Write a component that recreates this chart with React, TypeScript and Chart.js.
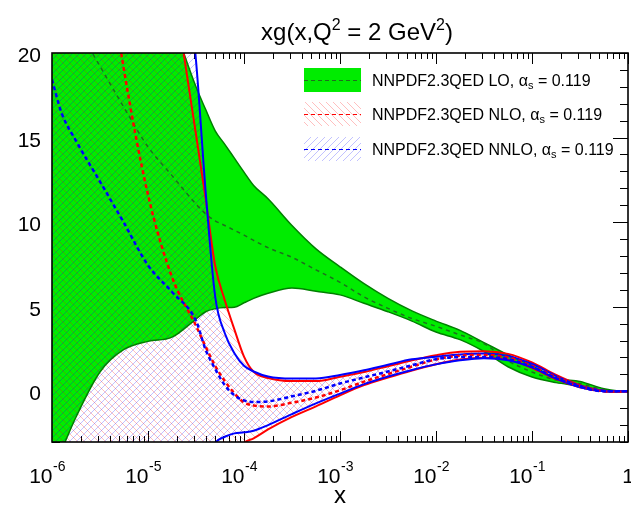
import React, { useEffect, useRef } from 'react';
import { Chart, registerables } from 'chart.js';

Chart.register(...registerables);

// x grid (momentum fraction)
const xValues = [
  1e-6, 1.26e-6, 1.78e-6, 3.16e-6, 5.62e-6, 1e-5, 1.78e-5, 3.16e-5, 3.98e-5, 5.01e-5, 6.31e-5,
  7.94e-5, 1e-4, 1.26e-4, 1.78e-4, 3.16e-4, 5.62e-4, 1e-3, 1.78e-3, 3.16e-3, 5.62e-3,
  1e-2, 1.78e-2, 3.16e-2, 5.62e-2, 0.1, 0.178, 0.316, 0.562, 0.794, 1,
];

// LO band
const loUpper = [40, 38.5, 36, 32, 29, 26, 22.0, 18.0, 16.67, 15.4, 14.6, 13.78, 12.96, 12.17, 11.38, 9.8, 8.42, 7.36, 6.36, 5.49, 4.75, 4.15, 3.6, 2.88, 2.15, 1.52, 0.78, 0.58, 0.15, 0.02, 0];
const loLower = [-4.8, -3.47, -1.52, 1.14, 2.47, 2.95, 3.2, 4.27, 4.7, 4.88, 4.95, 4.97, 5.23, 5.49, 5.79, 6.1, 5.91, 5.7, 5.2, 4.7, 4.15, 3.5, 3.05, 2.35, 1.45, 0.84, 0.51, 0.3, 0.0, -0.05, 0];
const loCentral = [24.0, 23.0, 21.66, 19.22, 16.78, 14.45, 12.75, 11.07, 10.49, 10.08, 9.8, 9.52, 9.23, 8.92, 8.49, 7.92, 7.18, 6.44, 5.58, 4.9, 4.3, 3.84, 3.33, 2.82, 1.8, 1.14, 0.66, 0.45, 0.08, 0, 0];

// NLO band
const nloUpper = [70, 67, 62, 54, 45, 34, 24.5, 15.19, 11.4, 7.42, 5.38, 3.66, 2.05, 1.15, 0.78, 0.6, 0.6, 0.86, 1.14, 1.48, 1.83, 2.13, 2.33, 2.36, 2.21, 1.7, 0.96, 0.36, 0.03, 0, 0];
const nloLower = [-18, -17.2, -16, -14, -12, -11, -9, -7, -6, -5.3, -4.5, -3.8, -3.05, -2.78, -2.26, -1.52, -0.89, -0.24, 0.36, 0.81, 1.23, 1.6, 1.88, 1.98, 1.87, 1.37, 0.72, 0.24, 0.0, -0.02, 0];
const nloCentral = [47, 43.5, 38, 28.5, 19.0, 11.62, 6.75, 3.88, 2.64, 1.5, 0.6, -0.12, -0.66, -0.84, -0.9, -0.68, -0.37, 0.06, 0.57, 1.02, 1.46, 1.88, 2.1, 2.15, 2.0, 1.5, 0.84, 0.3, 0.0, -0.03, 0];

// NNLO band
const nnloUpper = [90, 86, 80, 70, 58, 45, 32, 19.58, 11.84, 5.6, 3.43, 2.25, 1.51, 1.17, 0.87, 0.75, 0.76, 0.96, 1.24, 1.57, 1.89, 2.04, 2.18, 2.24, 2.09, 1.61, 0.9, 0.33, 0.03, 0, 0];
const nnloLower = [-14, -13.6, -13, -12, -11, -10, -8, -5.5, -4.2, -3.05, -2.69, -2.49, -2.43, -2.33, -2.0, -1.35, -0.72, -0.14, 0.42, 0.87, 1.26, 1.59, 1.83, 1.95, 1.83, 1.41, 0.75, 0.24, 0.0, -0.02, 0];
const nnloCentral = [18.42, 16.45, 14.8, 12.4, 9.95, 7.45, 5.87, 4.17, 2.46, 1.32, 0.36, -0.24, -0.54, -0.64, -0.6, -0.3, 0.03, 0.46, 0.82, 1.17, 1.54, 1.9, 2.02, 2.03, 1.9, 1.44, 0.78, 0.27, 0.0, 0, 0];

const yTickValues = [0, 5, 10, 15, 20];
const xTickExponents = [-6, -5, -4, -3, -2, -1, 0];
const legendLabels = ['NNPDF2.3QED LO, ', 'NNPDF2.3QED NLO, ', 'NNPDF2.3QED NNLO, '];
const alphaValue = ' = 0.119';
const xTitle = 'x';

const FONT = '"Liberation Sans", Arial, Helvetica, sans-serif';
const GREEN = '#00ec00';
const GREEN_EDGE = '#008000';
const GREEN_DASH = 'rgb(30,110,30)';
const RED_HATCH = 'rgba(255,0,0,0.25)';
const BLUE_HATCH = 'rgba(0,0,255,0.24)';

function makeHatch(ctx: CanvasRenderingContext2D, dir: 'fwd' | 'back', color: string, size: number) {
  const c = document.createElement('canvas');
  c.width = size;
  c.height = size;
  const g = c.getContext('2d')!;
  g.strokeStyle = color;
  g.lineWidth = 1;
  g.beginPath();
  for (let k = -1; k <= 1; k++) {
    if (dir === 'fwd') {
      g.moveTo(k * size, size);
      g.lineTo(k * size + size, 0);
    } else {
      g.moveTo(k * size, 0);
      g.lineTo(k * size + size, size);
    }
  }
  g.stroke();
  return ctx.createPattern(c, 'repeat')!;
}

type Seg = { t: string; size: number; dy?: number };

function drawRich(ctx: CanvasRenderingContext2D, segs: Seg[], x: number, y: number, align: 'left' | 'center' | 'right') {
  let w = 0;
  for (const s of segs) {
    ctx.font = `${s.size}px ${FONT}`;
    w += ctx.measureText(s.t).width;
  }
  let cx = align === 'center' ? x - w / 2 : align === 'right' ? x - w : x;
  ctx.textAlign = 'left';
  ctx.textBaseline = 'alphabetic';
  for (const s of segs) {
    ctx.font = `${s.size}px ${FONT}`;
    ctx.fillText(s.t, cx, y + (s.dy || 0));
    cx += ctx.measureText(s.t).width;
  }
}

const toPts = (arr: number[]) => xValues.map((x, i) => ({ x, y: arr[i] }));

export default function App() {
  const ref = useRef<HTMLCanvasElement>(null);

  useEffect(() => {
    document.body.style.margin = '0';
    const canvas = ref.current!;
    const ctx0 = canvas.getContext('2d')!;
    const redHatch = makeHatch(ctx0, 'back', RED_HATCH, 7);
    const blueHatch = makeHatch(ctx0, 'fwd', BLUE_HATCH, 7);

    const base = {
      pointRadius: 0,
      cubicInterpolationMode: 'monotone' as const,
      clip: 0,
    };

    const axesPlugin = {
      id: 'rootAxes',
      beforeDraw(chart: any) {
        const { ctx, chartArea: a, scales } = chart;
        const xs = scales.x;
        const ys = scales.y;
        ctx.save();
        ctx.strokeStyle = '#000';
        ctx.lineWidth = 1;
        ctx.beginPath();
        for (let e = -6; e <= 0; e++) {
          for (let m = 1; m <= 9; m++) {
            const v = m * Math.pow(10, e);
            if (v > 1.0000001) break;
            const px = Math.round(xs.getPixelForValue(v)) + 0.5;
            const len = m === 1 ? 11 : 6;
            ctx.moveTo(px, a.bottom);
            ctx.lineTo(px, a.bottom - len);
            ctx.moveTo(px, a.top);
            ctx.lineTo(px, a.top + len);
          }
        }
        for (let v = -3; v <= 20; v++) {
          const py = Math.round(ys.getPixelForValue(v)) + 0.5;
          const len = v % 5 === 0 ? 15 : 8;
          ctx.moveTo(a.left, py);
          ctx.lineTo(a.left + len, py);
          ctx.moveTo(a.right, py);
          ctx.lineTo(a.right - len, py);
        }
        ctx.stroke();
        ctx.restore();
      },
      afterDatasetsDraw(chart: any) {
        const { ctx, chartArea: a } = chart;
        ctx.save();
        ctx.strokeStyle = '#000';
        ctx.lineWidth = 1.6;
        ctx.strokeRect(a.left, a.top, a.right - a.left, a.bottom - a.top);
        ctx.restore();
      },
      afterDraw(chart: any) {
        const { ctx, chartArea: a, scales } = chart;
        const xs = scales.x;
        const ys = scales.y;
        ctx.save();
        ctx.fillStyle = '#000';
        // y tick labels
        for (const v of yTickValues) {
          const py = ys.getPixelForValue(v);
          drawRich(ctx, [{ t: String(v), size: 21 }], 41, py + 9, 'right');
        }
        // x tick labels
        for (const e of xTickExponents) {
          const px = xs.getPixelForValue(Math.pow(10, e));
          if (e === 0) {
            drawRich(ctx, [{ t: '1', size: 21 }], px, 483, 'center');
          } else {
            drawRich(ctx, [{ t: '10', size: 21 }], px + 0.5, 483, 'right');
            drawRich(ctx, [{ t: String(e), size: 14 }], px + 1, 471, 'left');
          }
        }
        // x title
        drawRich(ctx, [{ t: xTitle, size: 24 }], (a.left + a.right) / 2, 503, 'center');
        // title
        drawRich(
          ctx,
          [
            { t: 'xg(x,Q', size: 24 },
            { t: '2', size: 16, dy: -10 },
            { t: ' = 2 GeV', size: 24 },
            { t: '2', size: 16, dy: -10 },
            { t: ')', size: 24 },
          ],
          357,
          40,
          'center'
        );
        // legend
        const boxes = [
          { y: 68, fill: GREEN as any, dash: GREEN_DASH, dw: 1 },
          { y: 102, fill: redHatch as any, dash: '#ff0000', dw: 1 },
          { y: 137, fill: blueHatch as any, dash: '#0000ff', dw: 1 },
        ];
        boxes.forEach((b, i) => {
          ctx.fillStyle = b.fill;
          ctx.fillRect(304, b.y, 57, 24);
          ctx.strokeStyle = b.dash;
          ctx.lineWidth = b.dw;
          ctx.setLineDash([4, 3]);
          ctx.beginPath();
          ctx.moveTo(304, b.y + 12.5);
          ctx.lineTo(361, b.y + 12.5);
          ctx.stroke();
          ctx.setLineDash([]);
          ctx.fillStyle = '#000';
          const by = b.y + 12 + 5.8;
          drawRich(
            ctx,
            [
              { t: legendLabels[i], size: 16 },
              { t: 'α', size: 16 },
              { t: 's', size: 11, dy: 3.5 },
              { t: alphaValue, size: 16 },
            ],
            372,
            by,
            'left'
          );
        });
        ctx.restore();
      },
    };

    const chart = new Chart(canvas, {
      type: 'line',
      data: {
        datasets: [
          { ...base, data: toPts(loUpper), borderColor: GREEN_EDGE, borderWidth: 1.5, backgroundColor: GREEN, fill: '+1', order: 10 },
          { ...base, data: toPts(loLower), borderColor: GREEN_EDGE, borderWidth: 1.5, fill: false, order: 10 },
          { ...base, data: toPts(loCentral), borderColor: GREEN_DASH, borderWidth: 1.5, borderDash: [4, 4], fill: false, order: 9 },
          { ...base, data: toPts(nloUpper), borderColor: '#ff0000', borderWidth: 2, backgroundColor: redHatch, fill: '+1', order: 8 },
          { ...base, data: toPts(nloLower), borderColor: '#ff0000', borderWidth: 2, fill: false, order: 8 },
          { ...base, data: toPts(nnloUpper), borderColor: '#0000ff', borderWidth: 2, backgroundColor: blueHatch, fill: '+1', order: 7 },
          { ...base, data: toPts(nnloLower), borderColor: '#0000ff', borderWidth: 2, fill: false, order: 7 },
          { ...base, data: toPts(nloCentral), borderColor: '#ff0000', borderWidth: 2.5, borderDash: [4, 3], fill: false, order: 2 },
          { ...base, data: toPts(nnloCentral), borderColor: '#0000ff', borderWidth: 2.5, borderDash: [4, 3], fill: false, order: 1 },
        ] as any,
      },
      options: {
        animation: false,
        responsive: false,
        layout: { padding: { left: 52, right: 3, top: 53, bottom: 65 } },
        scales: {
          x: { type: 'logarithmic', min: 1e-6, max: 1, display: false },
          y: { type: 'linear', min: -3, max: 20, display: false },
        },
        plugins: {
          legend: { display: false },
          tooltip: { enabled: false },
          filler: { drawTime: 'beforeDatasetsDraw', propagate: false },
        } as any,
      },
      plugins: [axesPlugin],
    });

    return () => chart.destroy();
  }, []);

  return <canvas ref={ref} width={631} height={507} style={{ display: 'block' }} />;
}
